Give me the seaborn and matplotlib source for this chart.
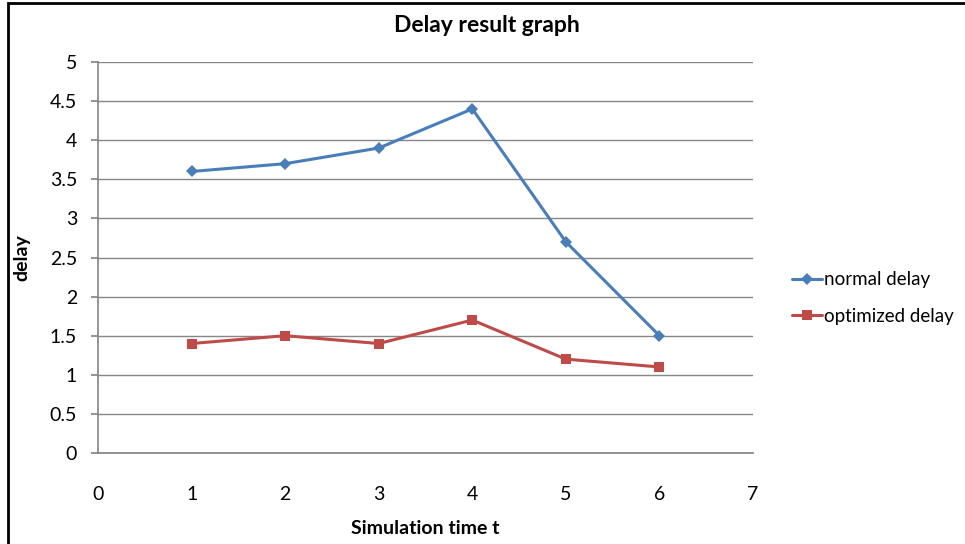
import pandas as pd
import matplotlib.pyplot as plt
import seaborn as sns
from matplotlib.patches import Rectangle

time_t = [1, 2, 3, 4, 5, 6]
normal_delay = [3.6, 3.7, 3.9, 4.4, 2.7, 1.5]
optimized_delay = [1.4, 1.5, 1.4, 1.7, 1.2, 1.1]

df = pd.DataFrame({'t': time_t, 'normal delay': normal_delay, 'optimized delay': optimized_delay})

sns.set_theme(style="white")
plt.rcParams['font.family'] = ['Lato', 'DejaVu Sans']
plt.rcParams['text.color'] = 'black'
plt.rcParams['axes.labelcolor'] = 'black'
plt.rcParams['xtick.color'] = 'black'
plt.rcParams['ytick.color'] = 'black'

fig = plt.figure(figsize=(9.65, 5.44), dpi=100)
ax = fig.add_axes([0.1016, 0.1673, 0.6787, 0.7187])

sns.lineplot(data=df, x='t', y='normal delay', ax=ax, color='#4A7EBB', marker='D',
             markersize=6, markeredgewidth=0, linewidth=2.2, label='normal delay')
sns.lineplot(data=df, x='t', y='optimized delay', ax=ax, color='#BE4B48', marker='s',
             markersize=7, markeredgewidth=0, linewidth=2.2, label='optimized delay')

ax.set_xlim(0, 7)
ax.set_ylim(0, 5)
ax.set_xticks(range(0, 8))
ax.set_yticks([0, 0.5, 1, 1.5, 2, 2.5, 3, 3.5, 4, 4.5, 5])
ax.set_yticklabels(['0', '0.5', '1', '1.5', '2', '2.5', '3', '3.5', '4', '4.5', '5'])
ax.yaxis.grid(True, color='#868686', linewidth=1)
ax.xaxis.grid(False)
for s in ['top', 'right']:
    ax.spines[s].set_visible(False)
ax.spines['left'].set_color('#868686')
ax.spines['bottom'].set_color('#868686')
ax.tick_params(axis='x', length=0, pad=24, labelsize=14)
ax.tick_params(axis='y', length=5, color='#868686', left=True, pad=10, labelsize=14)

ax.set_xlabel('Simulation time t', fontsize=14, fontweight='bold', labelpad=12)
ax.set_ylabel('delay', fontsize=14, fontweight='bold', labelpad=14)
fig.text(0.505, 0.953, 'Delay result graph', ha='center', va='center', fontsize=16.5, fontweight='bold')

ax.legend(loc='center left', bbox_to_anchor=(0.811, 0.452), bbox_transform=fig.transFigure,
          frameon=False, fontsize=13.5, handlelength=1.6, handletextpad=0.1, labelspacing=1.05,
          borderpad=0)

fig.patches.append(Rectangle((0.008, -0.05), 1.2, 1.045, transform=fig.transFigure,
                             fill=False, edgecolor='black', linewidth=2))

fig.savefig('out.png', dpi=100)
